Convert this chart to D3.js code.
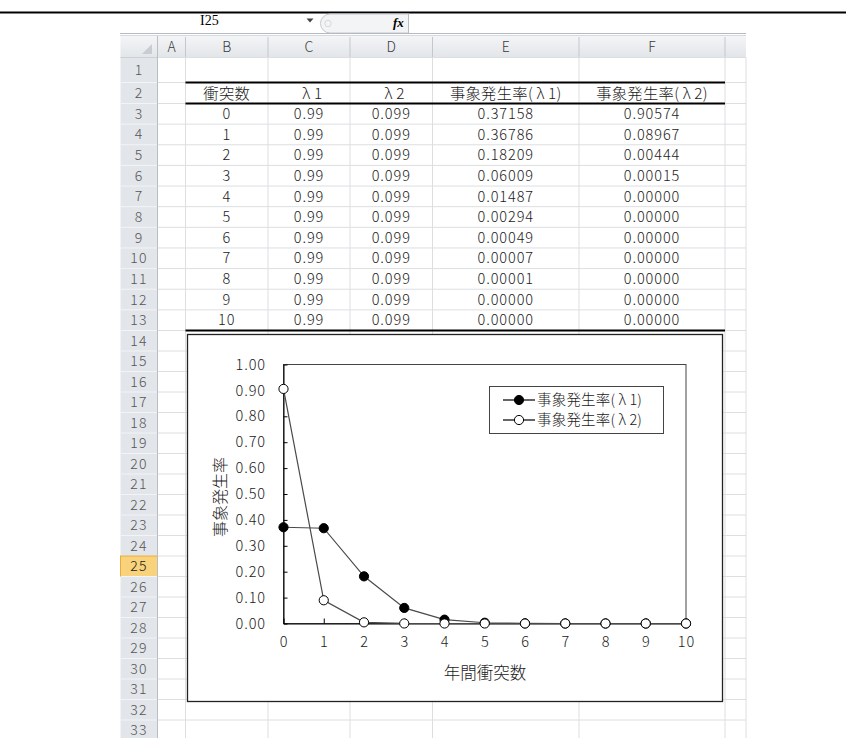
<!DOCTYPE html>
<html><head><meta charset="utf-8">
<script src="https://cdn.jsdelivr.net/npm/d3@7"></script>
<style>
html,body{margin:0;padding:0;background:#fff;}
svg{display:block;}
</style></head><body>
<svg id="c" width="846" height="738"></svg>
<script>
// ---- data ----
const columnLetters = ["A","B","C","D","E","F",""];
const tableHeaders = ["衝突数","λ1","λ2","事象発生率(λ1)","事象発生率(λ2)"];
const collisions = [0,1,2,3,4,5,6,7,8,9,10];
const lambda1 = [0.99,0.99,0.99,0.99,0.99,0.99,0.99,0.99,0.99,0.99,0.99];
const lambda2 = [0.099,0.099,0.099,0.099,0.099,0.099,0.099,0.099,0.099,0.099,0.099];
const rate1 = [0.37158,0.36786,0.18209,0.06009,0.01487,0.00294,0.00049,0.00007,0.00001,0.00000,0.00000];
const rate2 = [0.90574,0.08967,0.00444,0.00015,0.00000,0.00000,0.00000,0.00000,0.00000,0.00000,0.00000];
const seriesNames = ["事象発生率(λ1)","事象発生率(λ2)"];
const yTicks = [0,0.1,0.2,0.3,0.4,0.5,0.6,0.7,0.8,0.9,1.0];
const xTicks = [0,1,2,3,4,5,6,7,8,9,10];
const yTitle = "事象発生率";
const xTitle = "年間衝突数";
const nameBox = "I25";
const activeRow = 25;

const svg = d3.select("#c");
const FONT = '"Noto Sans CJK JP","Noto Sans",sans-serif';

// text helper: λ given full-width spacing as in the Japanese font of the original
function addText(sel, str, pad){
  const parts = str.split(/(λ)/);
  let after = false;
  parts.forEach(p=>{
    if(p==="") return;
    const t = sel.append("tspan").text(p);
    if(p==="λ"){ t.attr("dx",pad); after = true; }
    else if(after){ t.attr("dx",pad); after=false; }
  });
  return sel;
}
function txt(x,y,str,opts={}){
  const size = opts.size||14.5;
  const t = svg.append("text").attr("x",x).attr("y",y).attr("dy","0.36em")
    .attr("text-anchor",opts.anchor||"middle")
    .style("font-family",opts.family||FONT)
    .style("font-size",size+"px")
    .style("font-weight",opts.weight||300)
    .style("letter-spacing",(opts.ls||0)+"px")
    .attr("fill",opts.fill||"#1a1a1a");
  addText(t,str,size*0.22);
  return t;
}

// ---- layout of sheet ----
const colEdges = [120.5,157.5,185.5,268,350,432.5,579,725,746];
const rowEdges = [57.5,82.5,103.5];
for(let i=1;i<=11;i++) rowEdges.push(103.5 + i*(330.5-103.5)/11);
for(let i=1;i<=20;i++) rowEdges.push(330.5 + i*20.5);
const nRows = 33;

// top line
svg.append("line").attr("x1",0).attr("x2",846).attr("y1",12.5).attr("y2",12.5).attr("stroke","#000").attr("stroke-width",2);
// formula bar
svg.append("text").attr("x",200).attr("y",25).style("font-family","'Liberation Serif',serif").style("font-size","14px").attr("fill","#000").text(nameBox);
svg.append("path").attr("d","M306.5,18.5 L313.5,18.5 L310,22.5 Z").attr("fill","#444");
svg.append("path").attr("d","M408,14 L330,14 A9.5,9.5 0 0 0 330,33 L408,33").attr("fill","#f3f4f6").attr("stroke","#c4c8ce");
svg.append("circle").attr("cx",328).attr("cy",23.5).attr("r",3.2).attr("fill","none").attr("stroke","#d4d7db");
svg.append("text").attr("x",393).attr("y",27).style("font-family","'Liberation Serif',serif").style("font-style","italic").style("font-weight","bold").style("font-size","13px").text("fx");
svg.append("line").attr("x1",408.5).attr("x2",408.5).attr("y1",13.5).attr("y2",33).attr("stroke","#b8bdc4");
svg.append("line").attr("x1",120).attr("x2",746).attr("y1",33.5).attr("y2",33.5).attr("stroke","#b4bac2");
svg.append("line").attr("x1",120).attr("x2",746).attr("y1",35.5).attr("y2",35.5).attr("stroke","#d6dadf");

// column header row
const defs = svg.append("defs");
const g1 = defs.append("linearGradient").attr("id","hg").attr("x1",0).attr("x2",0).attr("y1",0).attr("y2",1);
g1.append("stop").attr("offset",0).attr("stop-color","#f4f5f7");
g1.append("stop").attr("offset",1).attr("stop-color","#e2e5e9");
svg.append("rect").attr("x",120.5).attr("y",36).attr("width",746-120.5).attr("height",21.5).attr("fill","url(#hg)");
svg.append("line").attr("x1",120.5).attr("x2",746).attr("y1",57.5).attr("y2",57.5).attr("stroke","#b5bac1");
colEdges.slice(1,-1).forEach(x=>svg.append("line").attr("x1",x).attr("x2",x).attr("y1",37).attr("y2",57.5).attr("stroke","#c3c8ce"));
svg.append("path").attr("d","M152,44 L152,54 L142,54 Z").attr("fill","#c9ccd1");
columnLetters.forEach((c,i)=>{
  txt((colEdges[i+1]+colEdges[i+2])/2, 47, c, {size:14, fill:"#3a3a3a"});
});

// gridlines
for(let r=0;r<rowEdges.length;r++){
  svg.append("line").attr("x1",157.5).attr("x2",746).attr("y1",rowEdges[r]).attr("y2",rowEdges[r]).attr("stroke","#dcdee0");
}
colEdges.slice(2).forEach(x=>svg.append("line").attr("x1",x).attr("x2",x).attr("y1",57.5).attr("y2",738).attr("stroke","#dcdee0"));

// row headers
svg.append("rect").attr("x",120.5).attr("y",57.5).attr("width",37).attr("height",738-57.5).attr("fill","#e2e5e9");
for(let r=0;r<nRows;r++){
  const y0=rowEdges[r], y1=rowEdges[r+1]!==undefined?rowEdges[r+1]:741;
  const act = (r+1)===activeRow;
  if(act){
    svg.append("rect").attr("x",120.5).attr("y",y0).attr("width",37).attr("height",y1-y0).attr("fill","#f8d37c").attr("stroke","#eaaa3c");
  }
  svg.append("line").attr("x1",120.5).attr("x2",157.5).attr("y1",y1).attr("y2",y1).attr("stroke","#f3f4f6");
  txt(139,(y0+y1)/2,String(r+1),{size:14, ls:1.2, fill:act?"#222":"#555"});
}
svg.append("line").attr("x1",157.5).attr("x2",157.5).attr("y1",36).attr("y2",738).attr("stroke","#b9bec5");

// table
const tcx = i => (colEdges[i+2]+colEdges[i+3])/2;
const rowMid = r => (rowEdges[r-1]+rowEdges[r])/2;
tableHeaders.forEach((h,i)=>{
  txt(tcx(i), rowMid(2), h, {size:15.3, ls:0.3});
});
const fmtRate = v => v.toFixed(5);
collisions.forEach((c,k)=>{
  const y = rowMid(3+k);
  const vals = [String(c), String(lambda1[k]), String(lambda2[k]), fmtRate(rate1[k]), fmtRate(rate2[k])];
  vals.forEach((v,i)=>txt(tcx(i), y, v, {size:14.5, ls:0.9}));
});
[rowEdges[1], rowEdges[2], rowEdges[13]].forEach(y=>{
  svg.append("line").attr("x1",185.5).attr("x2",725).attr("y1",y).attr("y2",y).attr("stroke","#000").attr("stroke-width",2);
});

// ---- chart ----
svg.append("rect").attr("x",187.5).attr("y",334.5).attr("width",535).attr("height",367).attr("fill","#fff").attr("stroke","#222").attr("stroke-width",1.3);
const x = d3.scaleLinear().domain([0,10]).range([283.5,686]);
const y = d3.scaleLinear().domain([0,1]).range([623.5,364.5]);
// plot area border
svg.append("rect").attr("x",283.5).attr("y",364.5).attr("width",686-283.5).attr("height",623.5-364.5).attr("fill","none").attr("stroke","#444");

const yAxis = d3.axisLeft(y).tickValues(yTicks).tickFormat(d3.format(".2f")).tickSizeInner(-4).tickSizeOuter(0).tickPadding(17.5);
const gy = svg.append("g").attr("transform","translate(283.5,0)").call(yAxis);
const xAxis = d3.axisBottom(x).tickValues(xTicks).tickFormat(d3.format("d")).tickSizeInner(-5).tickSizeOuter(0).tickPadding(13);
const gx = svg.append("g").attr("transform","translate(0,623.5)").call(xAxis);
[gx,gy].forEach(g=>{
  g.select(".domain").attr("stroke","#000");
  g.selectAll(".tick line").attr("stroke","#000");
  g.selectAll("text").style("font-family",FONT).style("font-size","14.5px").style("font-weight",300).style("letter-spacing","0.9px").attr("fill","#1a1a1a");
});

svg.append("text").attr("transform","translate(220,497) rotate(-90)").attr("text-anchor","middle").attr("dy","0.36em")
  .style("font-family",FONT).style("font-size","16px").style("font-weight",300).attr("fill","#1a1a1a").text(yTitle);
txt(485, 673, xTitle, {size:16.5});

const line = d3.line().x((d,i)=>x(collisions[i])).y(d=>y(d));
const series = [{vals:rate1, fill:"#000"},{vals:rate2, fill:"#fff"}];
series.forEach(s=>{
  svg.append("path").attr("d",line(s.vals)).attr("fill","none").attr("stroke","#4a4a4a").attr("stroke-width",1.2);
});
series.forEach(s=>{
  svg.append("g").selectAll("circle").data(s.vals).join("circle")
    .attr("cx",(d,i)=>x(collisions[i])).attr("cy",d=>y(d)).attr("r",4.6)
    .attr("fill",s.fill).attr("stroke","#000").attr("stroke-width",1);
});

// legend
svg.append("rect").attr("x",489.5).attr("y",386.5).attr("width",174).attr("height",47).attr("fill","#fff").attr("stroke","#444");
series.forEach((s,i)=>{
  const ly = 400 + i*20;
  svg.append("line").attr("x1",503).attr("x2",535).attr("y1",ly).attr("y2",ly).attr("stroke","#000").attr("stroke-width",1.2);
  svg.append("circle").attr("cx",519).attr("cy",ly).attr("r",4.6).attr("fill",s.fill).attr("stroke","#000");
  txt(537, ly, seriesNames[i], {size:14.5, anchor:"start", ls:0.2});
});
</script>
</body></html>
